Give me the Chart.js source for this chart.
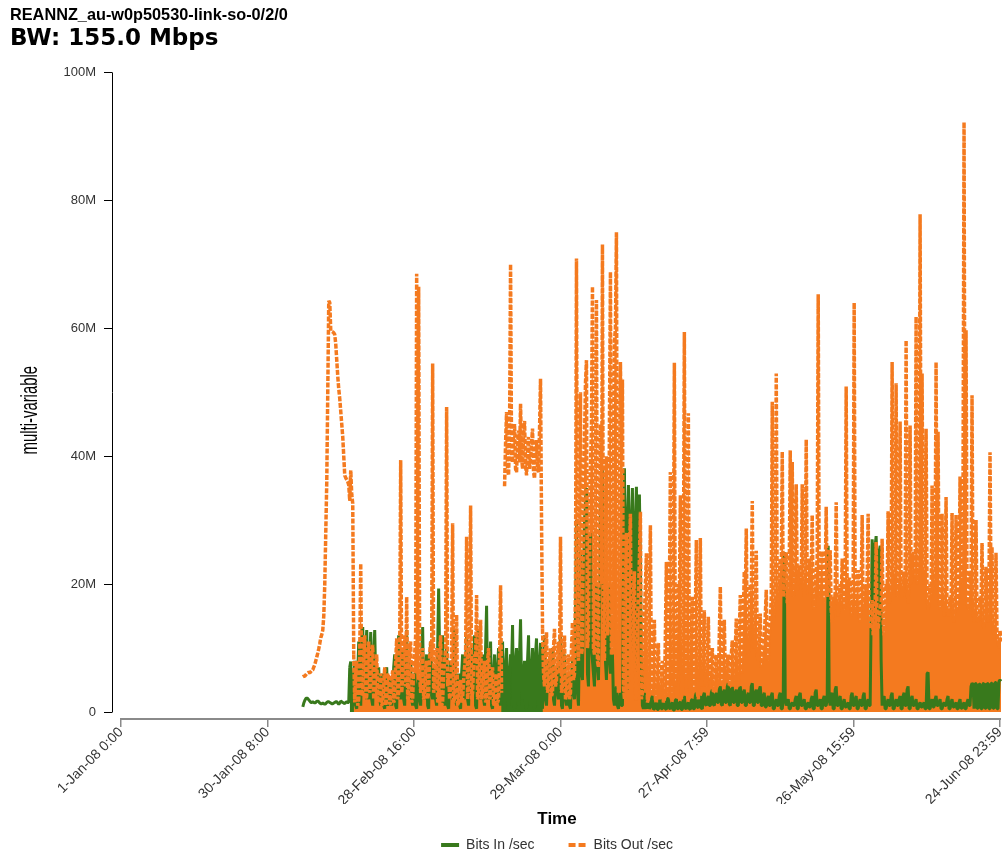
<!DOCTYPE html>
<html>
<head>
<meta charset="utf-8">
<title>REANNZ_au-w0p50530-link-so-0/2/0</title>
<script src="https://cdn.jsdelivr.net/npm/chart.js@4.4.1/dist/chart.umd.min.js"></script>
<style>
  html, body { margin: 0; padding: 0; background: #ffffff; }
  #wrap { width: 1002px; height: 857px; position: relative; }
</style>
</head>
<body>
<div id="wrap"><canvas id="traffic"></canvas></div>
<script>
// ---- Chart text ----
const chartTitle = 'REANNZ_au-w0p50530-link-so-0/2/0';
const chartSubtitle = 'BW: 155.0 Mbps';
const yAxisTitle = 'multi-variable';
const xAxisTitle = 'Time';
const seriesNames = ['Bits In /sec', 'Bits Out /sec'];

// ---- Sampling: days after 1-Jan-08 0:00, one sample every 0.2 day ----
const sampleStartDay = 36.4;
const sampleStepDays = 0.2;

// Bits in per second (millions)
const bitsIn = [
  0.8, 1.4, 1.8, 2.1, 2.2, 2.1, 1.9, 1.7, 1.5, 1.5, 1.6, 1.5, 1.4, 1.5, 1.7, 1.7, 1.6, 1.4, 1.3, 1.3,
  1.4, 1.3, 1.2, 1.3, 1.5, 1.6, 1.6, 1.5, 1.4, 1.3, 1.3, 1.4, 1.5, 1.6, 1.6, 1.4, 1.2, 1.4, 1.7, 1.6,
  1.5, 1.4, 1.3, 1.5, 1.6, 1.5, 1.5, 7, 7.9, 2, 1, 5, 8, 1, 0.5, 6, 11, 2, 1, 9,
  13.3, 5, 3, 9, 12.8, 3, 2, 8, 12.5, 2, 1, 9, 12.8, 5, 4, 6, 7, 2, 1, 5,
  6, 1, 0.5, 5, 7, 1, 1.5, 4, 5.5, 1, 2, 7, 9, 1, 0.5, 8, 12, 3, 2, 8,
  10, 2, 1, 9, 12.8, 3, 2.5, 6, 8, 2, 1, 5, 6, 1, 0.5, 4, 5, 2, 1, 9,
  13.3, 3, 2, 7, 9, 1, 0.5, 8, 11, 3, 2, 6, 7, 2, 1, 10, 19.3, 9, 3, 8,
  12, 2, 1, 7, 10, 1, 0.5, 6, 8, 3, 2, 9, 13, 2, 1, 5, 6, 1, 0.5, 6,
  9, 3, 2, 8, 12, 2, 1, 7, 10, 4, 3, 8, 12, 1, 0.5, 9, 13, 3, 2, 7,
  9, 2, 1, 10, 16.6, 3, 2, 7, 11, 1, 0.5, 6, 9, 2, 1.5, 7, 10, 2, 1, 8,
  11, 2, 0.5, 7, 10, 2, 1, 6, 9, 7, 13.6, 1, 0.5, 8, 10, 2, 1, 9, 14.5, 4,
  2, 6, 8, 1, 0.5, 8, 12, 2, 1, 7, 10, 1, 0.5, 9, 11.5, 2, 1, 8, 10.8, 2,
  0.5, 8, 12, 2, 1, 6, 8, 4, 3, 7, 10, 2, 1, 5, 7, 3, 2, 9, 12, 1,
  0.5, 6, 9, 2, 1, 5, 6, 1, 0.5, 6, 8, 3, 2, 15, 30, 3, 1, 12, 25, 6,
  5, 20, 30, 32, 35, 6, 4, 18, 28, 10, 8, 6, 4, 12, 20, 7, 5, 15, 30, 36,
  38, 20, 12, 8, 5, 14, 20, 8, 6, 7, 9, 2, 1, 3, 4, 1, 0.5, 2, 3, 1,
  1, 20, 38.1, 20, 15, 30, 35.5, 22, 18, 30, 35, 20, 14, 30, 35.2, 24, 16, 34, 23, 8,
  1, 0.5, 3, 1, 0.5, 1.5, 2, 0.5, 0.8, 2, 2.5, 0.4, 0.5, 1.2, 1.5, 0.4, 0.4, 1.8, 2, 0.5,
  0.5, 1.5, 1.8, 0.5, 0.4, 2, 2.2, 0.6, 0.5, 1.2, 1.5, 0.3, 0.3, 1.8, 2, 0.5, 0.5, 1.4, 1.6, 0.4,
  0.4, 2, 2.5, 0.6, 0.5, 1.2, 1.5, 0.5, 0.4, 1.8, 2, 0.5, 0.5, 2.5, 3, 0.8, 0.6, 2, 2.5, 0.6,
  0.5, 2.5, 3, 1.2, 1, 2, 2.5, 1, 1, 3, 3.5, 1.2, 1, 2.5, 3, 1.5, 1.5, 3.5, 4, 1.2,
  1, 3, 3.5, 1.5, 1.5, 4, 4.5, 1.2, 1, 3.5, 4, 1.5, 1.5, 3, 3.5, 1, 1, 3.5, 4, 1.5,
  1.5, 3, 3.5, 1, 1, 2.5, 3, 1.5, 1.5, 4, 4.5, 1, 1, 3, 3.5, 1.5, 1.5, 3.5, 4, 1,
  1, 2.5, 3, 0.8, 0.8, 2, 2.5, 1, 1, 2.5, 3, 0.5, 0.5, 1.5, 2, 1, 1, 2.5, 3, 0.5,
  0.5, 2, 25, 2, 1, 1.5, 2, 0.5, 0.5, 1.2, 1.5, 1, 1, 2, 2.5, 0.5, 0.5, 2.5, 3, 1,
  1, 1.5, 2, 0.5, 0.5, 1.2, 1.5, 0.8, 0.8, 2, 2.5, 0.5, 0.5, 3, 3.5, 1, 1, 1.5, 2, 0.5,
  0.5, 2, 2.5, 1, 1, 2, 26, 2, 1, 2.5, 3, 0.5, 0.5, 3.5, 4, 1, 1, 2, 2.5, 0.5,
  0.5, 1.5, 2, 0.8, 0.8, 1.2, 1.5, 0.5, 0.5, 2.5, 3, 1, 1, 2, 2.5, 0.5, 0.5, 1.5, 2, 1,
  1, 2.5, 3, 0.5, 0.5, 1.5, 2, 1, 1, 15, 27, 24, 22, 26, 27.5, 22, 20, 25, 26, 8,
  1, 2, 2.5, 0.5, 0.5, 1.5, 2, 1, 1, 2.5, 3, 0.5, 0.5, 1.5, 2, 1, 1, 2, 2.5, 0.5,
  0.5, 2.5, 3, 1, 1, 3.5, 4, 0.5, 0.5, 2, 2.5, 1, 1, 1.5, 2, 0.5, 0.5, 1.2, 1.5, 0.8,
  0.8, 1.2, 1.5, 0.5, 0.5, 6, 6.2, 0.5, 0.5, 1.5, 2, 0.8, 0.8, 2, 2.5, 1, 1, 1.5, 2, 0.5,
  0.5, 1.2, 1.5, 1, 1, 2, 2.5, 0.5, 0.5, 1.5, 2, 0.8, 0.8, 1.2, 1.5, 0.5, 0.5, 1.5, 2, 0.6,
  0.6, 1.2, 1.5, 0.5, 0.5, 1.5, 2, 1, 1, 4, 4.5, 4.3, 0.5, 4.5, 4.4, 0.6, 0.6, 4.4, 4.3, 0.5,
  0.5, 4.4, 4.5, 0.6, 0.6, 4.5, 4.4, 0.5, 0.5, 4.5, 4.5, 0.6, 0.6, 4.6, 4.6, 0.5, 0.5, 4.8, 5, 4.8
];

// Bits out per second (millions); null marks missing samples
const bitsOut = [
  5.5, 5.6, 5.6, 5.8, 6.0, 6.1, 6.2, 6.1, 6.3, 6.5, 6.6, 7.0, 7.4, 8.0, 8.6, 9.2, 9.9, 10.7, 11.6, 12.1,
  12.8, 15, 20, 28, 36, 50, 64.3, 64, 59.6, 59.5, 59.4, 59.3, 59, 57.5, 55, 52.5, 50.5, 49, 47, 45,
  43, 40, 37, 36.6, 36.3, 36, 35.5, 33, 37.8, 34, 32.6, 9, 1.5, 6, 8, 1, 2, 9, 23.2, 2.5,
  3, 8, 12, 1.5, 2.5, 7, 11, 3, 4, 9, 10.5, 2, 3, 6, 9, 1.5, 2, 5, 6, 1,
  1.5, 4, 7, 1, 2, 6, 5.5, 1.2, 1.5, 5, 6.5, 1.5, 2, 8, 11.5, 2, 3, 9, 39.4, 3,
  5, 9, 12, 4, 18, 2, 3, 10, 11, 1.5, 2, 7, 9, 12, 68.5, 30, 66.5, 6, 3, 7,
  10, 2, 2.5, 7, 8, 2, 3, 9, 11, 8, 54.5, 3, 4, 8, 10, 1.5, 2, 9, 12, 1,
  1.5, 6, 8, 10, 47.7, 4, 6, 2, 3, 9, 29.5, 1.5, 2, 7, 15.2, 1, 1.5, 4, 5, 1.5,
  2, 5, 7, 9, 27.4, 2, 4, 10, 32.3, 2, 3, 7, 9, 8, 18.3, 2, 2.5, 8, 14.4, 2,
  3, 6, 8, 1.5, 2, 8, 10, 2, 2.5, 6, 7, 1, 1.5, 5, 6, 1.5, 2, 8, 19.8, 3,
  null, null, 35.3, 42, 46.9, 38, 37, 44, 70, 40, 39, 43, 45, 38, 37.5, 42, 44, 39, 48.2, 40,
  38, 43, 45.5, 38.5, 37, 41, 43, 38, 39.5, 42, 44.3, 37.5, 36.5, 41, 42.5, 38, 37.5, 44, 52.1, 30,
  13, 6, 4, 9, 12.5, 3, 4, 8, 10, 2.5, 3, 10, 13, 4, 5, 9, 11, 6, 27.4, 3,
  4, 9, 12, 2, 2.5, 7, 9, 2, 3, 10, 14, 5, 6, 20, 70.9, 12, 8, 25, 50, 9,
  10, 30, 42, 51.4, 55, 10, 12, 30, 38, 45, 66.5, 10, 9, 35, 64.4, 8, 7, 28, 45, 20,
  73.1, 9, 8, 30, 40, 12, 14, 45, 68.8, 9, 10, 35, 58, 60, 75, 8, 3, 30, 54.7, 40,
  52, 4, 2, 20, 28, 4, 3, 25, 31, 3, 5, 18, 22, 2, 2, 14, 18, 24, 31.3, 2,
  3, 10, 15, 20, 24.8, 1.5, 2, 18, 29.2, 3, 4, 10, 14.4, 2, 1.5, 8, 10.8, 2, 3, 6,
  8, 1.5, 2, 12, 23.5, 3, 4, 18, 37.5, 2, 2.5, 20, 54.6, 4, 6, 14, 20, 18, 33.9, 2,
  3, 20, 59.4, 6, 5, 25, 46.7, 4, 3, 12, 18, 3, 4, 15, 26.9, 3, 2, 14, 27.2, 4,
  5, 10, 15.9, 4.5, 4, 9, 14.9, 5, 6, 8, 10, 3, 3.5, 8, 9, 4, 5, 12, 19.6, 5,
  4, 10, 14.4, 5, 6, 8, 9, 4, 4, 9, 11.2, 4, 5, 10, 14.6, 5, 4, 12, 18.3, 6,
  9, 15, 22, 18, 28.7, 10, 9, 14, 20, 18, 33, 11, 10, 16, 25.2, 9, 8, 11, 15.4, 7,
  8, 10, 12, 15, 19.1, 9, 8, 12, 14, 18, 48.5, 14, 15, 18, 52.9, 16, 17, 21, 24, 22,
  40.7, 18, 20, 23, 25, 17, 19, 22, 40.9, 21, 39.1, 18, 20, 24, 35.6, 19, 21, 23, 22, 20,
  35.6, 20, 18, 22, 42.6, 19, 21, 24, 18, 22, 30.8, 17, 16, 20, 22, 24, 65.3, 18, 20, 23,
  25.2, 19, 17, 21, 32.1, 18, 20, 22, 25.3, 16, 14, 18, 16, 19, 32.8, 17, 15, 18, 20, 17,
  24, 18, 16, 20, 50.9, 17, 19, 21, 20, 15, 17, 20, 64, 16, 18, 19, 22.2, 15, 14, 18,
  30.8, 16, 18, 20, 19, 21, 31, 15, 13, 16, 17.5, 12, 14, 17, 26.6, 14, 13, 15, 16, 17,
  27.1, 14, 12, 16, 20, 19, 31.4, 17, 18, 20, 54.7, 19, 21, 22, 51.4, 18, 20, 22, 45.4, 19,
  18, 21, 22, 20, 58.1, 19, 17, 21, 44.8, 20, 22, 25, 24, 21, 61.8, 20, 22, 25, 77.8, 25,
  52.9, 22, 20, 23, 44.3, 18, 16, 17, 20, 18, 35.4, 19, 20, 22, 54.7, 20, 43.8, 18, 16, 18,
  31, 17, 15, 19, 33.6, 16, 15, 16, 18, 17, 31.1, 15, 14, 18, 30.8, 16, 17, 20, 36.8, 22,
  20, 35, 92.2, 25, 59.7, 18, 16, 18, 22, 20, 49.5, 16, 14, 18, 30, 15, 14, 15, 18, 17,
  26.4, 14, 13, 17, 22.7, 15, 14, 20, 40.6, 18, 25.8, 13, 12, 15, 24.9, 12, 11, 10, 12.8, 11
];

// ---- Axis ticks ----
const xTickDays = [0, 29.333, 58.667, 88, 117.333, 146.667, 176];
const xTickLabels = ['1-Jan-08 0:00', '30-Jan-08 8:00', '28-Feb-08 16:00', '29-Mar-08 0:00',
                     '27-Apr-08 7:59', '26-May-08 15:59', '24-Jun-08 23:59'];
const yTickValues = [0, 20, 40, 60, 80, 100];
const yTickLabels = ['0', '20M', '40M', '60M', '80M', '100M'];

// ---- Styling ----
const SANS = "'Liberation Sans', Arial, Helvetica, sans-serif";
const GREEN = '#38791c';
const ORANGE = '#f47a1f';
const CLEAR = 'rgba(0,0,0,0)';
const LEGEND_FONT = 14;
const LEGEND_GAP = 34;
const LEGEND_HEIGHT = LEGEND_FONT + LEGEND_GAP + 10;   // Chart.js legend row height
const PAD_BOTTOM = -5;
const PLOT_BOTTOM = 718;
const PLOT_LEFT = 112;

// Densely sampled stretches are shaded down to zero; the sparse early curve
// and the high plateau stay as plain lines.
const inShadedRun = (day, runs) => runs.some(([a, b]) => day >= a && day < b);
const IN_SHADED = [[45.8, 200]];
const OUT_SHADED = [[46.6, 76.4], [84.4, 200]];
const shade = (color, runs) => ctx => (inShadedRun(ctx.p0.parsed.x, runs) ? color : CLEAR);

const sampleDays = bitsIn.map((_, i) => sampleStartDay + i * sampleStepDays);
const toPoints = vals => vals.map((v, i) => ({ x: sampleDays[i], y: v }));

// Axis lines and the condensed vertical axis title
const axisFrame = {
  id: 'axisFrame',
  beforeDatasetsDraw(chart) {
    const { ctx, chartArea, scales: { x, y } } = chart;
    ctx.save();
    ctx.strokeStyle = '#000';
    ctx.lineWidth = 1;
    ctx.beginPath();
    const ax = Math.round(chartArea.left) + 0.5;
    ctx.moveTo(ax, y.getPixelForValue(yTickValues[0]) + 0.5);
    ctx.lineTo(ax, y.getPixelForValue(yTickValues[yTickValues.length - 1]));
    ctx.stroke();

    ctx.strokeStyle = '#8a8a8a';
    ctx.lineWidth = 2;
    ctx.beginPath();
    const ay = chartArea.bottom + 1;
    ctx.moveTo(x.getPixelForValue(xTickDays[0]) - 0.5, ay);
    ctx.lineTo(x.getPixelForValue(xTickDays[xTickDays.length - 1]) + 1, ay);
    ctx.stroke();

    ctx.translate(30, (chartArea.top + chartArea.bottom) / 2 + 15);
    ctx.rotate(-Math.PI / 2);
    ctx.scale(0.62, 1);
    ctx.font = `24px ${SANS}`;
    ctx.fillStyle = '#000';
    ctx.textAlign = 'center';
    ctx.textBaseline = 'middle';
    ctx.fillText(yAxisTitle, 0, 0);
    ctx.restore();
  }
};

new Chart(document.getElementById('traffic'), {
  type: 'line',
  data: {
    datasets: [
      {
        label: seriesNames[0],
        data: toPoints(bitsIn),
        borderColor: GREEN,
        backgroundColor: GREEN,
        borderWidth: 3,
        borderJoinStyle: 'bevel',
        fill: 'origin',
        segment: { backgroundColor: shade(GREEN, IN_SHADED) },
        pointRadius: 0,
        pointHoverRadius: 0,
        pointStyle: 'line',
        tension: 0,
        spanGaps: false,
        order: 1
      },
      {
        label: seriesNames[1],
        data: toPoints(bitsOut),
        borderColor: ORANGE,
        backgroundColor: ORANGE,
        borderWidth: 3.5,
        borderDash: [5, 1.6],
        borderJoinStyle: 'bevel',
        fill: 'origin',
        segment: { backgroundColor: shade(ORANGE, OUT_SHADED) },
        pointRadius: 0,
        pointHoverRadius: 0,
        pointStyle: 'line',
        tension: 0,
        spanGaps: false,
        order: 0
      }
    ]
  },
  options: {
    responsive: true,
    maintainAspectRatio: false,
    animation: false,
    devicePixelRatio: 1,
    events: [],
    layout: { padding: { left: 10, right: 0, top: 0, bottom: PAD_BOTTOM } },
    font: { family: SANS },
    plugins: {
      filler: { propagate: false, drawTime: 'beforeDatasetsDraw' },
      title: {
        display: true,
        text: chartTitle,
        align: 'start',
        color: '#000',
        font: { family: SANS, size: 16.3, weight: 'bold' },
        padding: { top: 6, bottom: 0 }
      },
      subtitle: {
        display: true,
        text: chartSubtitle,
        align: 'start',
        color: '#000',
        font: { family: "'DejaVu Sans', " + SANS, size: 23, weight: 'bold' },
        padding: { top: 0, bottom: 19.2 }
      },
      legend: {
        display: true,
        position: 'bottom',
        fullSize: false,
        labels: {
          usePointStyle: true,
          pointStyle: 'line',
          pointStyleWidth: 18,
          boxWidth: 18,
          padding: LEGEND_GAP,
          color: '#333',
          font: { family: SANS, size: LEGEND_FONT },
          sort: (a, b) => a.datasetIndex - b.datasetIndex,
          generateLabels(chart) {
            const items = Chart.defaults.plugins.legend.labels.generateLabels(chart);
            items.forEach(it => {
              it.lineWidth = 4;
              it.lineDash = it.datasetIndex === 1 ? [7, 3] : [];
            });
            return items;
          }
        }
      },
      tooltip: { enabled: false }
    },
    scales: {
      x: {
        type: 'linear',
        min: -1.802,
        max: 176.4,
        afterBuildTicks(scale) {
          scale.ticks = xTickDays.map(v => ({ value: v }));
        },
        afterFit(scale) {
          scale.height = 857 - PAD_BOTTOM - LEGEND_HEIGHT - PLOT_BOTTOM;
          scale.paddingLeft = 0;
          scale.paddingRight = 0;
        },
        ticks: {
          autoSkip: false,
          minRotation: 45,
          maxRotation: 45,
          padding: -3,
          color: '#333',
          font: { family: SANS, size: 14 },
          callback: (v, i) => xTickLabels[i]
        },
        grid: {
          drawOnChartArea: false,
          drawTicks: true,
          tickLength: 9,
          color: '#8a8a8a',
          lineWidth: 1.5
        },
        border: { display: false },
        title: {
          display: true,
          text: xAxisTitle,
          color: '#000',
          font: { family: SANS, size: 17, weight: 'bold' },
          padding: { top: 0, bottom: -26 }
        }
      },
      y: {
        type: 'linear',
        min: -0.9375,
        max: 100,
        afterBuildTicks(scale) {
          scale.ticks = yTickValues.map(v => ({ value: v }));
        },
        afterFit(scale) {
          scale.width = PLOT_LEFT - 10;
          scale.paddingTop = 0;
          scale.paddingBottom = 0;
        },
        ticks: {
          padding: 8,
          color: '#333',
          font: { family: SANS, size: 13 },
          callback: (v, i) => yTickLabels[i]
        },
        grid: {
          drawOnChartArea: false,
          drawTicks: true,
          tickLength: 8,
          color: '#000',
          lineWidth: 1
        },
        border: { display: false }
      }
    }
  },
  plugins: [axisFrame]
});
</script>
</body>
</html>
